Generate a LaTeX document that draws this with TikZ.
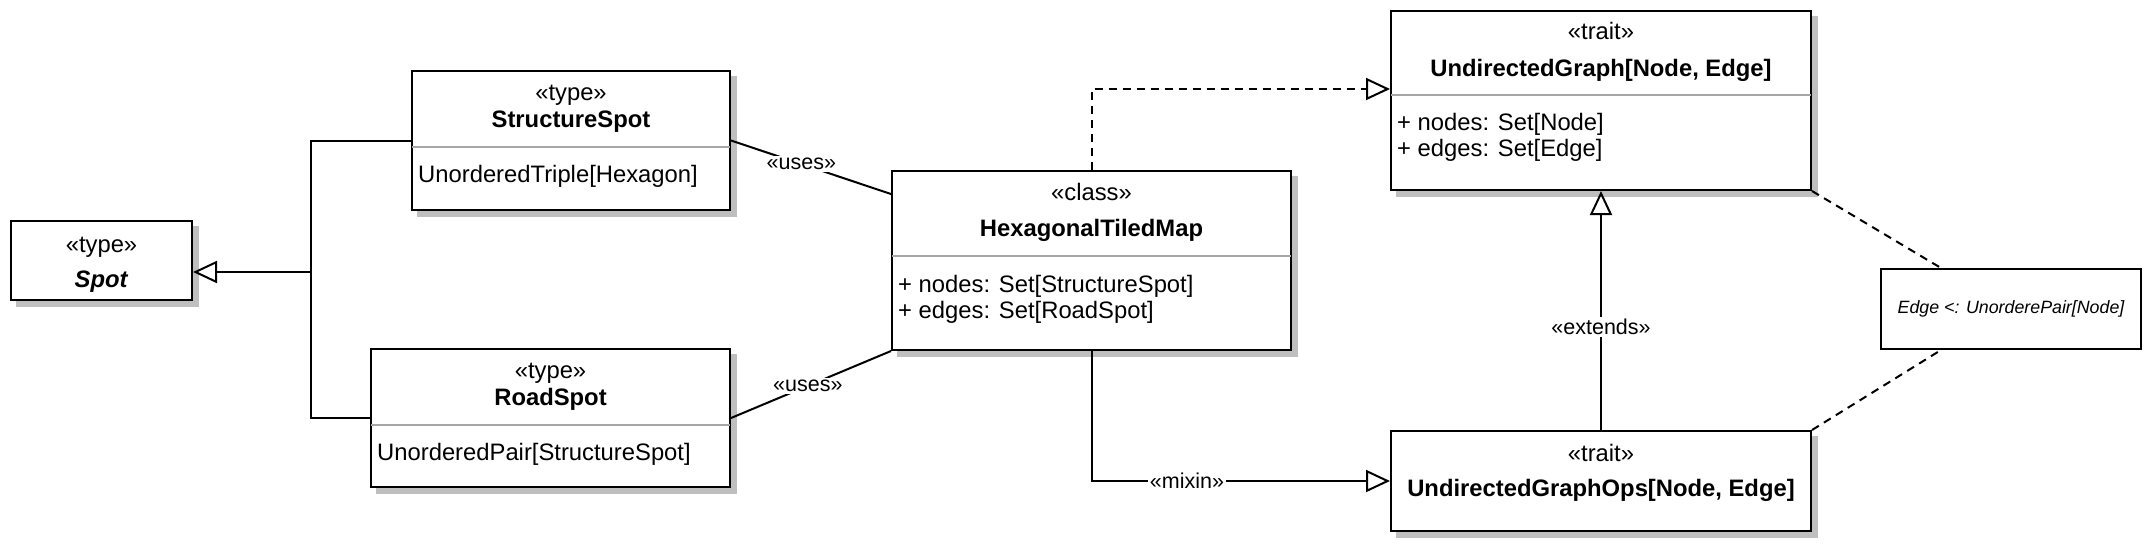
\documentclass[tikz,border=0pt]{standalone}
\usepackage{fontspec}
\setmainfont{Liberation Sans}
\usetikzlibrary{arrows.meta,backgrounds}

\begin{document}
\begin{tikzpicture}[x=1pt, y=-1pt,
		box/.style={draw, line width=2pt, fill=white, inner sep=0pt},
		txt/.style={font=\fontsize{23.8}{28}\selectfont, inner sep=0pt, anchor=mid},
		attr/.style={txt, anchor=mid west},
		divider/.style={draw=black!35, line width=2pt, shorten <=1pt, shorten >=1pt},
		link/.style={line width=2pt},
		hint/.style={link, dash pattern=on 8pt off 6pt},
		hollow/.style={-{Triangle[open, length=24pt, width=22pt]}},
		lbl/.style={fill=white, inner sep=2pt, font=\fontsize{21.5}{25}\selectfont}]
		\useasboundingbox (0, 0) rectangle (2152, 550);
		\node[box, minimum width=181pt, minimum height=79pt] (spot) at (101.5, 260.5) {};
		\node[box, minimum width=318pt, minimum height=139pt] (structure) at (571, 140.5) {};
		\node[box, minimum width=359pt, minimum height=138pt] (road) at (550.5, 418) {};
		\node[box, minimum width=399pt, minimum height=179pt] (tiledmap) at (1091.5, 260.5) {};
		\node[box, minimum width=420pt, minimum height=179pt] (graph) at (1601, 100.5) {};
		\node[box, minimum width=420pt, minimum height=100pt] (graphops) at (1601, 481) {};
		\node[draw, line width=2pt, minimum width=260pt, minimum height=80pt,
			font=\fontsize{17.8}{21}\selectfont\itshape] (constraint) at (2011, 309) {Edge <: UnorderePair[Node]};
		\begin{scope}[on background layer]
			\foreach \n in {spot, structure, road, tiledmap, graph, graphops}{
				\fill[black!25] ([shift={(5.5pt,-5.5pt)}]\n.south west) rectangle ([shift={(5.5pt,-5.5pt)}]\n.north east);
			}
		\end{scope}
		\foreach \n/\d in {structure/77.3, road/77.3, tiledmap/86, graph/84.7}{
			\draw[divider] ([yshift=-\d pt]\n.north west) -- ([yshift=-\d pt]\n.north east);
		}
		\node[txt] (spot-st) at (101.5, 249.5) {«type»};
		\node[txt] (spot-name) at (101.5, 284.5) {\textbf{\textit{Spot}}};
		\node[txt] (structure-st) at (571, 98) {«type»};
		\node[txt] (structure-name) at (571, 125) {\textbf{StructureSpot}};
		\node[attr] (structure-attr) at (418, 180) {UnorderedTriple[Hexagon]};
		\node[txt] (road-st) at (550.5, 375.5) {«type»};
		\node[txt] (road-name) at (550.5, 402.5) {\textbf{RoadSpot}};
		\node[attr] (road-attr) at (377, 457.5) {UnorderedPair[StructureSpot]};
		\node[txt] (tiledmap-st) at (1091.5, 198) {«class»};
		\node[txt] (tiledmap-name) at (1091.5, 234) {\textbf{HexagonalTiledMap}};
		\node[attr] (tiledmap-nodes) at (898, 289.5) {+ nodes: Set[StructureSpot]};
		\node[attr] (tiledmap-edges) at (898, 315.5) {+ edges: Set[RoadSpot]};
		\node[txt] (graph-st) at (1601, 37) {«trait»};
		\node[txt] (graph-name) at (1601, 74) {\textbf{UndirectedGraph[Node, Edge]}};
		\node[attr] (graph-nodes) at (1397, 127.5) {+ nodes: Set[Node]};
		\node[attr] (graph-edges) at (1397, 154) {+ edges: Set[Edge]};
		\node[txt] (graphops-st) at (1601, 459) {«trait»};
		\node[txt] (graphops-name) at (1601, 494) {\textbf{UndirectedGraphOps[Node, Edge]}};
		\coordinate (fork) at (311, 272);
		\draw[link, hollow] (fork) -- (fork -| spot.east);
		\draw[link] (structure.west) -| (fork) |- (road.west);
		\draw[link] (structure.east) -- node[lbl, pos=0.44] {«uses»} ([yshift=-24pt]tiledmap.north west);
		\draw[link] (road.east) -- node[lbl, pos=0.48] {«uses»} (tiledmap.south west);
		\draw[hint, hollow] (tiledmap.north) |- ([yshift=-79pt]graph.north west);
		\draw[link, hollow] (tiledmap.south) |- node[lbl, pos=0.66] {«mixin»} (graphops.west);
		\draw[link, hollow] (graphops.north) -- node[lbl, pos=0.43] {«extends»} (graph.south);
		\draw[hint] (graph.south east) -- ([xshift=61pt]constraint.north west);
		\draw[hint] (graphops.north east) -- ([xshift=61pt]constraint.south west);
	\end{tikzpicture}
\end{document}
